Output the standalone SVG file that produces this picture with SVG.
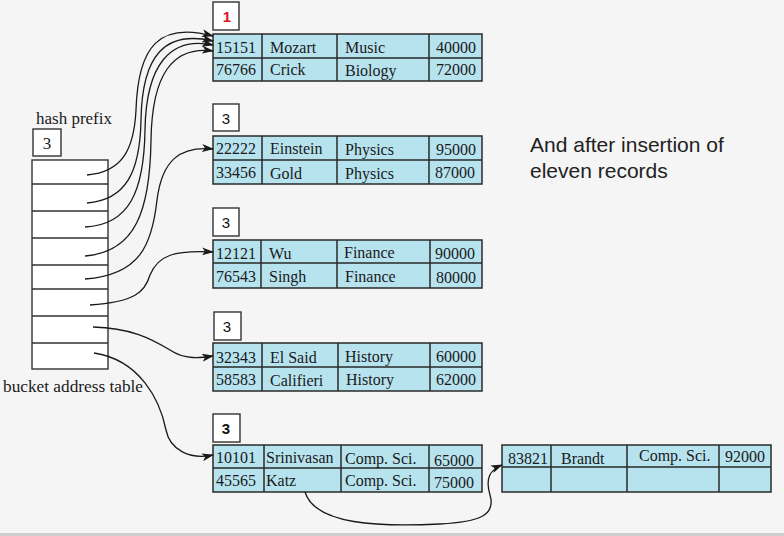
<svg xmlns="http://www.w3.org/2000/svg" width="784" height="536" viewBox="0 0 784 536">
<defs>
<style>
.bg{fill:#f5f5f5}
.cell{fill:#b7e3ef;stroke:#2a2a2a;stroke-width:1.5}
.ln{stroke:#2a2a2a;stroke-width:1.5;fill:none}
.lbl{fill:#fff;stroke:#333;stroke-width:1.4}
.ht{fill:#fff;stroke:#333;stroke-width:1.4}
.t{font-family:"Liberation Serif","Times New Roman",serif;font-size:16px;fill:#1a1a1a}
.tl{font-family:"Liberation Serif","Times New Roman",serif;font-size:17.5px;fill:#1a1a1a}
.s{font-family:"Liberation Sans",Arial,sans-serif;font-size:15px;fill:#111;text-anchor:middle}
.big{font-family:"Liberation Sans",Arial,sans-serif;font-size:21px;fill:#222}
.c{fill:none;stroke:#1a1a1a;stroke-width:1.3;marker-end:url(#ah)}
</style>
<marker id="ah" viewBox="0 0 12 8" refX="11" refY="4" markerWidth="12" markerHeight="8" markerUnits="userSpaceOnUse" orient="auto">
<path d="M0,0 L12,4 L0,8 L3,4 z" fill="#1a1a1a"/>
</marker>
</defs>
<rect class="bg" x="0" y="0" width="784" height="536"/>
<rect x="0" y="533" width="784" height="3" fill="#cfcfcf"/>

<g id="directory">
<text class="tl" x="36" y="124" textLength="76" lengthAdjust="spacingAndGlyphs">hash prefix</text>
<rect class="lbl" x="33" y="129" width="28" height="27"/>
<text class="t" x="47" y="149" text-anchor="middle" style="font-size:17px">3</text>
<rect class="ht" x="32" y="160" width="76" height="209"/>
<path class="ln" d="M32,184H108M32,211H108M32,238H108M32,265H108M32,289H108M32,316H108M32,343H108" style="stroke:#333;stroke-width:1.4"/>
<text class="tl" x="3" y="392" textLength="140" lengthAdjust="spacingAndGlyphs">bucket address table</text>
</g>

<g id="bucket1">
<rect class="lbl" x="213" y="2" width="26" height="28"/>
<text class="s" x="227" y="22" style="fill:#e0141e;font-weight:bold">1</text>
<rect class="cell" x="213" y="34" width="269" height="47"/>
<path class="ln" d="M213,58H482M262,34V81M337,34V81M429,34V81"/>
<text class="t" x="216" y="53">15151</text><text class="t" x="270" y="53">Mozart</text><text class="t" x="345" y="53">Music</text><text class="t" x="436" y="53">40000</text>
<text class="t" x="216" y="75">76766</text><text class="t" x="270" y="75">Crick</text><text class="t" x="345" y="76">Biology</text><text class="t" x="436" y="75">72000</text>
</g>

<g id="bucket2">
<rect class="lbl" x="213" y="104" width="26" height="27"/>
<text class="s" x="226" y="124">3</text>
<rect class="cell" x="213" y="136" width="269" height="48"/>
<path class="ln" d="M213,160H482M262,136V184M337,136V184M429,136V184"/>
<text class="t" x="216" y="154">22222</text><text class="t" x="270" y="154">Einstein</text><text class="t" x="345" y="155">Physics</text><text class="t" x="436" y="155">95000</text>
<text class="t" x="216" y="178">33456</text><text class="t" x="270" y="179">Gold</text><text class="t" x="345" y="179">Physics</text><text class="t" x="435" y="178">87000</text>
</g>

<g id="bucket3">
<rect class="lbl" x="213" y="208" width="26" height="28"/>
<text class="s" x="226" y="228">3</text>
<rect class="cell" x="213" y="240" width="269" height="48"/>
<path class="ln" d="M213,263H482M261,240V288M337,240V288M430,240V288"/>
<text class="t" x="216" y="259">12121</text><text class="t" x="269" y="259">Wu</text><text class="t" x="344" y="258">Finance</text><text class="t" x="435" y="259">90000</text>
<text class="t" x="216" y="282">76543</text><text class="t" x="269" y="282">Singh</text><text class="t" x="345" y="282">Finance</text><text class="t" x="436" y="283">80000</text>
</g>

<g id="bucket4">
<rect class="lbl" x="214" y="312" width="27" height="28"/>
<text class="s" x="227" y="332">3</text>
<rect class="cell" x="213" y="343" width="269" height="48"/>
<path class="ln" d="M213,367H482M262,343V391M338,343V391M430,343V391"/>
<text class="t" x="216" y="363">32343</text><text class="t" x="270" y="363">El Said</text><text class="t" x="345" y="362">History</text><text class="t" x="436" y="362">60000</text>
<text class="t" x="216" y="385">58583</text><text class="t" x="270" y="386">Califieri</text><text class="t" x="346" y="385">History</text><text class="t" x="436" y="385">62000</text>
</g>

<g id="bucket5">
<rect class="lbl" x="213" y="414" width="27" height="28"/>
<text class="s" x="226" y="434" style="font-weight:bold">3</text>
<rect class="cell" x="213" y="445" width="269" height="47"/>
<path class="ln" d="M213,468H482M264,445V492M341,445V492M429,445V492"/>
<text class="t" x="216" y="463">10101</text><text class="t" x="266" y="463">Srinivasan</text><text class="t" x="345" y="464">Comp. Sci.</text><text class="t" x="434" y="466">65000</text>
<text class="t" x="216" y="486">45565</text><text class="t" x="266" y="486">Katz</text><text class="t" x="345" y="486">Comp. Sci.</text><text class="t" x="434" y="488">75000</text>
</g>

<g id="overflow">
<rect class="cell" x="502" y="445" width="269" height="47"/>
<path class="ln" d="M502,467H771M551,445V492M627,445V492M719,445V492"/>
<text class="t" x="508" y="464">83821</text><text class="t" x="561" y="464">Brandt</text><text class="t" x="639" y="461">Comp. Sci.</text><text class="t" x="725" y="462">92000</text>
</g>

<g id="note">
<text class="big" x="530" y="152">And after insertion of</text>
<text class="big" x="530" y="178">eleven records</text>
</g>

<g id="connectors">
<path class="c" d="M87,175 C122,172 134,150 136,110 C138,45 160,22 213,36"/>
<path class="c" d="M87,203 C126,200 140,172 141,120 C142,55 165,30 213,41"/>
<path class="c" d="M85,227 C129,225 144,192 145,130 C146,65 170,36 213,45"/>
<path class="c" d="M85,256 C136,252 150,210 151,140 C152,75 172,46 213,51"/>
<path class="c" d="M85,279 C140,275 152,245 157,200 C162,160 180,146 213,149"/>
<path class="c" d="M90,305 C135,302 145,292 150,275 C158,255 175,250 213,252"/>
<path class="c" d="M93,327 C130,328 150,338 170,350 C185,360 200,358 213,356"/>
<path class="c" d="M94,353 C140,360 160,400 166,430 C170,450 190,460 213,455"/>
<path class="c" d="M305,492 C315,525 380,527 440,524 C480,522 496,515 490,495 C485,478 490,470 502,465"/>
</g>
</svg>
